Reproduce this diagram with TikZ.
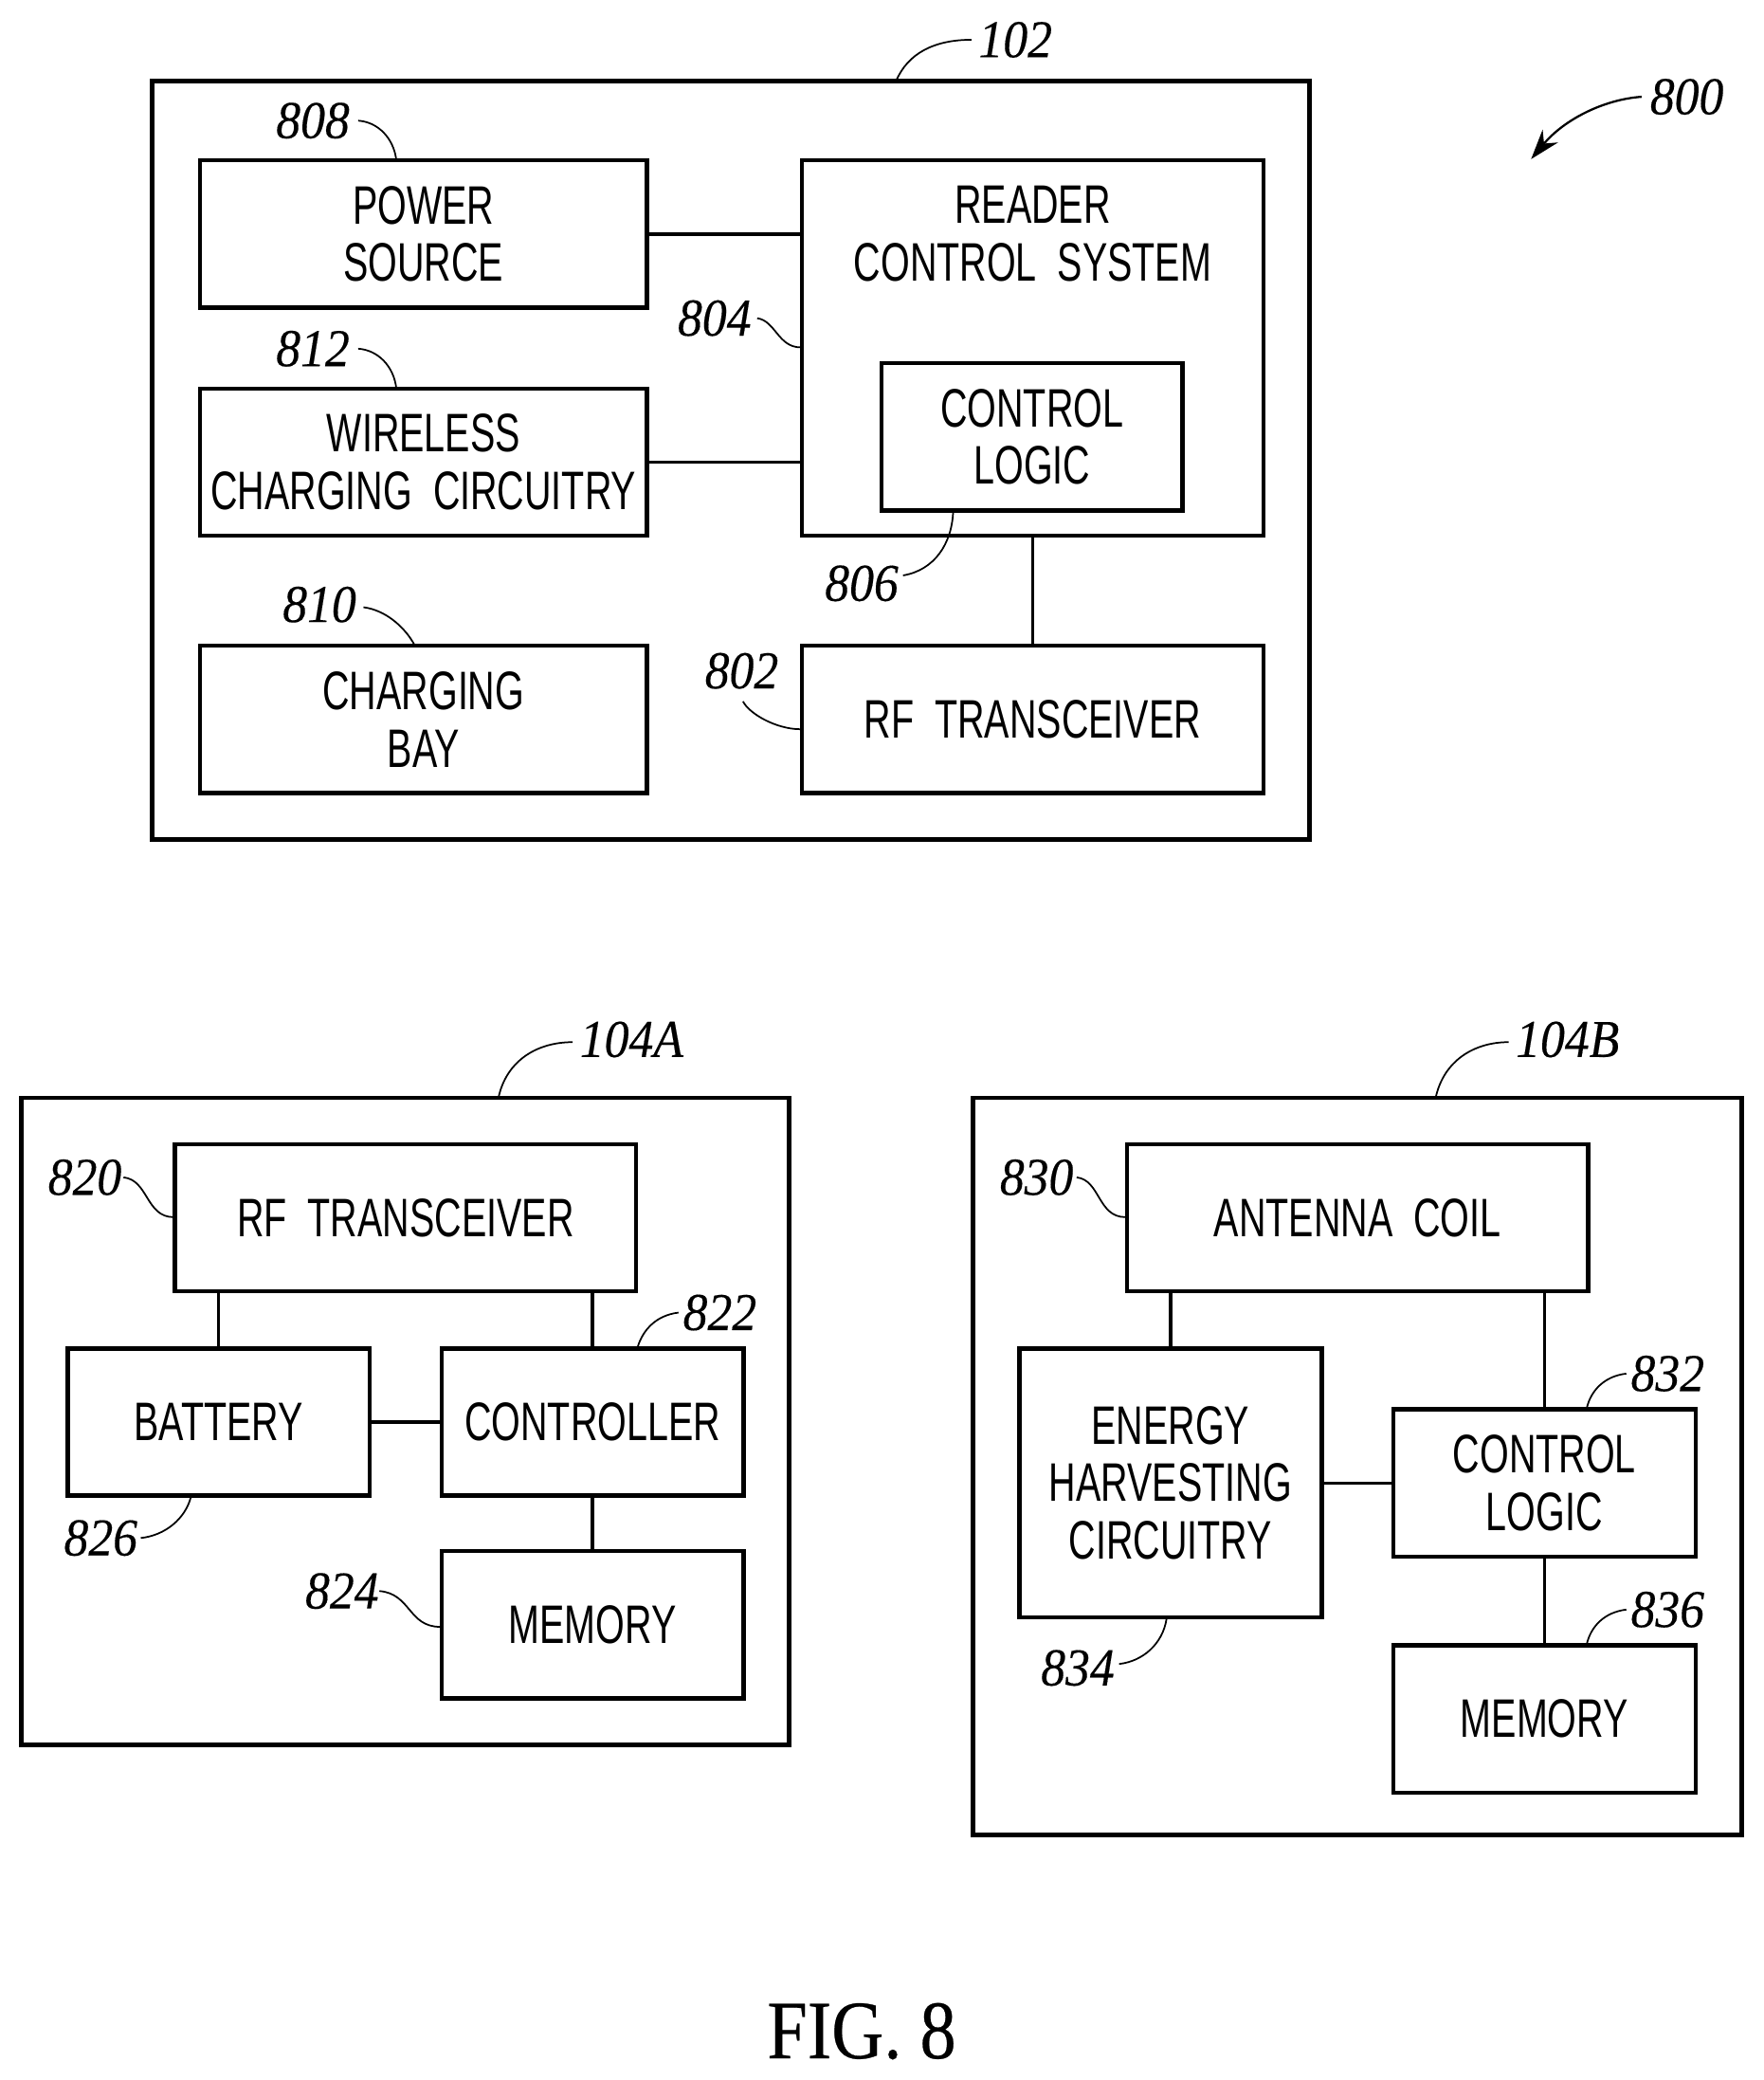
\documentclass[tikz,border=0pt]{standalone}
\usepackage{fontspec}
\setmainfont{Liberation Serif}
\newfontfamily\boxfont[FakeStretch=0.69]{Liberation Sans}
\newfontfamily\reffont[FakeStretch=0.92,FakeBold=0.25,ItalicFont={Liberation Serif Italic},ItalicFeatures={FakeStretch=0.92,FakeBold=0.25}]{Liberation Serif}
\newfontfamily\capfont[FakeStretch=0.87,FakeBold=0.3]{Liberation Serif}
\usetikzlibrary{arrows.meta}

\tikzset{
    blockbox/.style={rectangle, draw=black, line width=1.25pt, align=center, inner sep=0pt,
        font=\boxfont\fontsize{16.3}{17.3}\selectfont},
    outerbox/.style={blockbox, line width=1.4pt},
    reflabel/.style={inner sep=0pt, font=\reffont\itshape\fontsize{16}{18}\selectfont},
    wire/.style={line width=0.95pt},
    leader/.style={line width=0.5pt}
}

\begin{document}
\begin{tikzpicture}[x=0.014cm, y=-0.014cm]
\useasboundingbox (0, 0) rectangle (1330, 1568.8);

% unit 102
\node (unit) at (551.5, 347) [outerbox, minimum width=873*0.014cm, minimum height=572*0.014cm] {};
\begin{scope}[every node/.style={blockbox, minimum height=111*0.014cm}]
    \node (power) at (319.5, 176.5) [minimum width=337*0.014cm] {POWER\\SOURCE};
    \node (wireless) at (319.5, 348.5) [minimum width=337*0.014cm] {WIRELESS\\CHARGING\ \ CIRCUITRY};
    \node (bay) at (319.5, 542.5) [minimum width=337*0.014cm] {CHARGING\\BAY};
    \node (reader) at (779, 262.5) [minimum width=348*0.014cm, minimum height=283*0.014cm] {};
    \node (logic) at (778.5, 329.5) [minimum width=227*0.014cm] {CONTROL\\LOGIC};
    \node (rf) at (779, 542.5) [minimum width=348*0.014cm] {RF\ \ TRANSCEIVER};
\end{scope}
\node (readertext) at (779, 176.5) [blockbox, draw=none] {READER\\CONTROL\ \ SYSTEM};

% unit 104A
\node (unitA) at (305.5, 1072) [outerbox, minimum width=579*0.014cm, minimum height=488*0.014cm] {};
\begin{scope}[every node/.style={blockbox, minimum height=111*0.014cm}]
    \node (rfA) at (306, 918.5) [minimum width=348*0.014cm] {RF\ \ TRANSCEIVER};
    \node (battery) at (165, 1072.5) [minimum width=228*0.014cm] {BATTERY};
    \node (controller) at (447, 1072.5) [minimum width=228*0.014cm] {CONTROLLER};
    \node (memoryA) at (447, 1225.5) [minimum width=228*0.014cm] {MEMORY};
\end{scope}

% unit 104B
\node (unitB) at (1024, 1106) [outerbox, minimum width=580*0.014cm, minimum height=556*0.014cm] {};
\begin{scope}[every node/.style={blockbox, minimum height=111*0.014cm}]
    \node (coil) at (1024, 918.5) [minimum width=348*0.014cm] {ANTENNA\ \ COIL};
    \node (energy) at (883, 1118.5) [minimum width=228*0.014cm, minimum height=203*0.014cm] {ENERGY\\HARVESTING\\CIRCUITRY};
    \node (logicB) at (1165, 1118.5) [minimum width=228*0.014cm] {CONTROL\\LOGIC};
    \node (memoryB) at (1165, 1296.5) [minimum width=228*0.014cm] {MEMORY};
\end{scope}

% connections
\begin{scope}[every path/.style={wire}]
    \draw (power.east) -- (power.east -| reader.west);
    \draw (wireless.east) -- (wireless.east -| reader.west);
    \draw (reader) -- (rf);
    \draw (battery.north |- rfA.south) -- (battery.north);
    \draw (controller.north |- rfA.south) -- (controller.north);
    \draw (battery) -- (controller);
    \draw (controller) -- (memoryA);
    \draw (energy.north |- coil.south) -- (energy.north);
    \draw (logicB.north |- coil.south) -- (logicB.north);
    \draw (energy.east |- logicB.west) -- (logicB.west);
    \draw (logicB) -- (memoryB);
\end{scope}

% reference numbers
\begin{scope}[every node/.style={reflabel}]
    \node (n102) at (766, 30) {102};
    \node (n800) at (1272.5, 73) {800};
    \node (n808) at (236, 91) {808};
    \node (n812) at (236, 263) {812};
    \node (n810) at (241, 456) {810};
    \node (n804) at (539, 240) {804};
    \node (n806) at (650, 440) {806};
    \node (n802) at (559.5, 506) {802};
    \node (nA) at (476.5, 784) {104A};
    \node (nB) at (1182.5, 784) {104B};
    \node (n820) at (64, 888) {820};
    \node (n822) at (543, 990) {822};
    \node (n826) at (76, 1160) {826};
    \node (n824) at (258, 1200) {824};
    \node (n830) at (782, 888) {830};
    \node (n832) at (1258, 1036) {832};
    \node (n834) at (813, 1258) {834};
    \node (n836) at (1258, 1214) {836};
\end{scope}

% leader lines
\begin{scope}[every path/.style={leader}]
    \draw (n102.west) ++(-5, 0) .. controls (705, 30) and (685, 40) .. (676, 61);
    \draw (n808.east) ++(6, 0) .. controls (285, 92) and (297, 104) .. (299, 121);
    \draw (n812.east) ++(6, 0) .. controls (285, 264) and (297, 276) .. (299, 293);
    \draw (n810.east) ++(5, 2) .. controls (290, 460) and (305, 472) .. (313, 487);
    \draw (n804.east) ++(4, 0) .. controls (585, 242) and (587, 262) .. (604, 262);
    \draw (n806.east) ++(3, -6) .. controls (705, 430) and (718, 410) .. (719, 386);
    \draw (n802.south) ++(1, 9) .. controls (565, 538) and (585, 550) .. (604, 550);
    \draw (nA.west) ++(-5, 2) .. controls (405, 786) and (382, 800) .. (376, 828);
    \draw (nB.west) ++(-5, 2) .. controls (1112, 786) and (1089, 800) .. (1083, 828);
    \draw (n820.east) ++(1, 0) .. controls (112, 890) and (110, 918) .. (131, 918);
    \draw (n822.west) ++(-3, 0) .. controls (495, 992) and (485, 1003) .. (481, 1016);
    \draw (n826.east) ++(2, 0) .. controls (125, 1158) and (140, 1145) .. (144, 1129);
    \draw (n824.east) ++(0, 0) .. controls (310, 1202) and (308, 1227) .. (332, 1227);
    \draw (n830.east) ++(2, 0) .. controls (830, 890) and (828, 918) .. (849, 918);
    \draw (n832.west) ++(-3, 0) .. controls (1210, 1038) and (1200, 1049) .. (1197, 1062);
    \draw (n834.east) ++(3, -3) .. controls (862, 1253) and (877, 1240) .. (880, 1221);
    \draw (n836.west) ++(-3, 0) .. controls (1210, 1216) and (1200, 1227) .. (1197, 1240);
    \coordinate (tip800) at (1155, 120);
    \draw [-{Stealth[length=9pt, width=6pt]}, line width=0.65pt] (n800.west) ++(-6, 0) .. controls (1210, 75) and (1180, 90) .. (tip800);
\end{scope}

\node (caption) at (650, 1532) [inner sep=0pt, font=\capfont\fontsize{25}{28}\selectfont] {FIG. 8};
\end{tikzpicture}
\end{document}
